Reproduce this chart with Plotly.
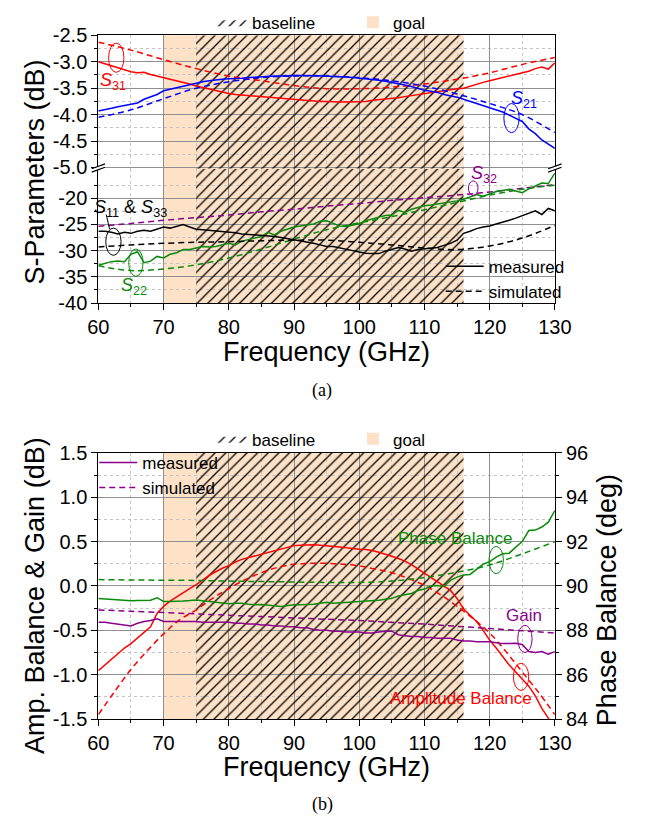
import plotly.graph_objects as go

# ---------------- data ----------------
freq = list(range(60, 131))            # measured sweep, 1 GHz step
freq5 = list(range(60, 131, 5))        # simulated points, 5 GHz step
freq25 = [60, 62.5, 65, 67.5, 70, 72.5, 75, 77.5, 80, 82.5, 85, 87.5, 90, 92.5, 95,
          97.5, 100, 102.5, 105, 107.5, 110, 112.5, 115, 117.5, 120, 122.5, 125, 127.5, 130]

goal_band = [70, 116]
baseline_band = [75, 116]

s31_meas = [-3.00, -3.04, -3.08, -3.12, -3.16, -3.19, -3.21, -3.20, -3.24, -3.27,
            -3.30, -3.32, -3.35, -3.38, -3.42, -3.46, -3.49, -3.52, -3.55, -3.58,
            -3.60, -3.62, -3.63, -3.65, -3.66, -3.67, -3.68, -3.69, -3.70, -3.71,
            -3.71, -3.72, -3.73, -3.74, -3.75, -3.75, -3.76, -3.76, -3.76, -3.76,
            -3.76, -3.75, -3.73, -3.72, -3.71, -3.70, -3.68, -3.66, -3.64, -3.63,
            -3.61, -3.58, -3.57, -3.55, -3.53, -3.51, -3.50, -3.46, -3.42, -3.39,
            -3.36, -3.33, -3.30, -3.27, -3.24, -3.21, -3.18, -3.13, -3.10, -3.14, -3.02]
s31_sim = [-2.63, -2.78, -2.96, -3.13, -3.27, -3.36, -3.45, -3.51, -3.51, -3.48,
           -3.42, -3.33, -3.21, -3.05, -2.92]

s21_meas = [-3.93, -3.91, -3.88, -3.85, -3.83, -3.80, -3.78, -3.71, -3.67, -3.62,
            -3.55, -3.52, -3.49, -3.46, -3.43, -3.41, -3.38, -3.36, -3.34, -3.33,
            -3.32, -3.32, -3.31, -3.30, -3.29, -3.28, -3.28, -3.27, -3.27, -3.26,
            -3.26, -3.26, -3.26, -3.26, -3.27, -3.27, -3.28, -3.28, -3.29, -3.30,
            -3.31, -3.32, -3.34, -3.35, -3.37, -3.39, -3.42, -3.44, -3.47, -3.51,
            -3.54, -3.56, -3.58, -3.62, -3.64, -3.67, -3.71, -3.75, -3.79, -3.83,
            -3.87, -3.91, -3.95, -4.01, -4.07, -4.13, -4.27, -4.36, -4.48, -4.56, -4.64]
s21_sim = [-4.05, -3.91, -3.70, -3.50, -3.38, -3.30, -3.27, -3.27, -3.30, -3.36,
           -3.46, -3.61, -3.79, -4.00, -4.34]

s11_meas = [-26.3, -26.3, -26.5, -26.8, -26.5, -26.7, -26.3, -26.1, -26.3, -25.9,
            -25.5, -25.7, -25.3, -25.0, -25.5, -25.9, -26.0, -26.1, -26.3, -26.4,
            -26.5, -26.6, -26.8, -26.9, -26.9, -27.0, -27.2, -27.3, -27.5, -27.7,
            -27.95, -28.2, -28.4, -28.6, -28.9, -29.2, -29.2, -29.5, -29.7, -30.0,
            -30.25, -30.5, -30.55, -30.56, -30.1, -29.8, -29.4, -29.7, -30.1, -29.8,
            -29.7, -29.6, -29.4, -29.0, -28.6, -28.0, -26.7, -26.3, -25.8, -25.5,
            -25.3, -24.9, -24.6, -24.2, -23.8, -23.3, -22.8, -22.4, -23.1, -21.95, -22.4]
s11_sim = [-29.3, -28.9, -28.6, -28.4, -28.3, -28.1, -28.0, -28.0, -28.4, -28.9,
           -29.5, -29.8, -29.1, -27.6, -25.2]

s32_sim = [-25.35, -24.8, -24.2, -23.7, -23.2, -22.6, -22.1, -21.5, -21.0, -20.4,
           -19.9, -19.4, -18.8, -18.1, -17.4]

s22_meas = [-32.8, -32.5, -32.1, -32.0, -32.1, -30.7, -30.2, -32.3, -32.0, -31.1,
            -31.4, -30.7, -30.4, -29.8, -29.8, -29.5, -29.2, -29.3, -29.2, -28.9,
            -28.6, -28.9, -28.2, -27.9, -27.6, -27.3, -26.5, -27.0, -26.3, -25.9,
            -25.5, -25.3, -25.1, -24.9, -24.4, -24.3, -24.8, -25.3, -25.4, -25.1,
            -24.85, -24.3, -23.9, -23.6, -23.3, -23.2, -22.3, -22.7, -22.1, -21.8,
            -21.45, -21.3, -21.1, -21.0, -20.8, -20.5, -20.2, -19.7, -19.3, -19.6,
            -19.2, -18.7, -18.5, -18.3, -18.6, -18.95, -18.2, -17.6, -17.1, -17.2, -15.2]
s22_sim = [-32.9, -33.8, -33.5, -32.7, -31.4, -29.7, -27.8, -26.0, -24.7, -23.5,
           -22.2, -20.8, -19.4, -18.3, -17.5]

amp_meas = [-0.955, -0.89, -0.83, -0.76, -0.70, -0.65, -0.59, -0.52, -0.46, -0.31,
            -0.23, -0.17, -0.12, -0.07, -0.03, 0.015, 0.07, 0.12, 0.16, 0.20,
            0.23, 0.27, 0.30, 0.32, 0.34, 0.355, 0.38, 0.40, 0.42, 0.44,
            0.455, 0.46, 0.465, 0.465, 0.46, 0.455, 0.45, 0.44, 0.43, 0.42,
            0.415, 0.41, 0.40, 0.38, 0.36, 0.335, 0.31, 0.28, 0.24, 0.19,
            0.14, 0.10, 0.05, 0.00, -0.05, -0.14, -0.26, -0.33, -0.40, -0.50,
            -0.61, -0.70, -0.80, -0.89, -0.97, -1.05, -1.13, -1.24, -1.38, -1.49, -1.60]
amp_sim = [-1.45, -1.19, -0.94, -0.73, -0.54, -0.38, -0.27, -0.14, -0.03, 0.07,
           0.15, 0.21, 0.245, 0.256, 0.256, 0.245, 0.227, 0.19, 0.15, 0.085,
           0.007, -0.10, -0.23, -0.37, -0.53, -0.74, -0.97, -1.20, -1.45]

phase_meas = [89.44, 89.42, 89.39, 89.35, 89.34, 89.33, 89.34, 89.34, 89.36, 89.47,
              89.30, 89.30, 89.30, 89.32, 89.34, 89.37, 89.33, 89.30, 89.25, 89.22,
              89.20, 89.22, 89.22, 89.18, 89.15, 89.16, 89.15, 89.11, 89.08, 89.12,
              89.15, 89.15, 89.16, 89.18, 89.22, 89.26, 89.22, 89.23, 89.25, 89.28,
              89.30, 89.31, 89.33, 89.36, 89.40, 89.44, 89.55, 89.60, 89.66, 89.80,
              89.86, 90.00, 90.02, 89.98, 90.25, 90.40, 90.50, 90.52, 90.75, 90.98,
              91.10, 91.30, 91.45, 91.48, 91.75, 92.00, 92.50, 92.52, 92.66, 92.88, 93.40]
phase_sim = [90.29, 90.27, 90.26, 90.25, 90.22, 90.20, 90.18, 90.16, 90.16, 90.22,
             90.38, 90.62, 90.95, 91.45, 92.00]

gain_meas = [-0.41, -0.41, -0.42, -0.43, -0.44, -0.45, -0.42, -0.40, -0.39, -0.37,
             -0.40, -0.40, -0.40, -0.40, -0.40, -0.40, -0.41, -0.41, -0.41, -0.41,
             -0.41, -0.42, -0.42, -0.43, -0.43, -0.44, -0.44, -0.45, -0.45, -0.46,
             -0.46, -0.47, -0.47, -0.49, -0.50, -0.50, -0.51, -0.51, -0.52, -0.52,
             -0.52, -0.53, -0.53, -0.52, -0.51, -0.51, -0.55, -0.56, -0.57, -0.57,
             -0.58, -0.58, -0.59, -0.59, -0.59, -0.61, -0.62, -0.62, -0.63, -0.63,
             -0.63, -0.64, -0.65, -0.65, -0.645, -0.66, -0.74, -0.75, -0.74, -0.77, -0.74]
gain_sim = [-0.27, -0.285, -0.30, -0.315, -0.33, -0.345, -0.36, -0.375, -0.39, -0.41,
            -0.43, -0.455, -0.48, -0.505, -0.53]

# axis ticks
x_ticks = [60, 70, 80, 90, 100, 110, 120, 130]
y_up_ticks = [-5.0, -4.5, -4.0, -3.5, -3.0, -2.5]
y_up_minor = [-4.75, -4.25, -3.75, -3.25, -2.75]
y_lo_ticks = [-40, -35, -30, -25, -20]
y_lo_minor = [-37.5, -32.5, -27.5, -22.5, -17.5]
y_b_ticks = [-1.5, -1.0, -0.5, 0.0, 0.5, 1.0, 1.5]
y_b_minor = [-1.25, -0.75, -0.25, 0.25, 0.75, 1.25]
y_ph_ticks = [84, 86, 88, 90, 92, 94, 96]
y_ph_minor = [85, 87, 89, 91, 93, 95]

range_up = [-5.024, -2.5]
range_lo = [-40, -14.36]
range_b = [-1.5, 1.5]
range_ph = [84, 96]

# ---------------- style / layout helpers ----------------
W, H = 651, 829
def PX(x): return x / W
def PY(y): return 1 - y / H

RED, BLUE, GREEN, PURPLE, BLACK = '#ff0000', '#0000ff', '#0a8a0a', '#8b008b', '#000000'
PEACH = '#fde2c8'
FONT = 'Liberation Sans, Arial, sans-serif'
DASH = '6px,4px'

xdom = [PX(91.3), PX(568.3)]
dom_lo = [PY(300), PY(162)]
dom_up = [PY(162), PY(25)]
dom_b = [PY(727.3), PY(454)]

fig = go.Figure()

def line(x, y, color, dash=None, xa='x', ya='y', name=None, legend=None, show=False, spline=False):
    fig.add_trace(go.Scatter(
        x=x, y=y, mode='lines', xaxis=xa, yaxis=ya, name=name,
        line=dict(color=color, width=1.5, dash=dash or 'solid', shape='spline' if spline else 'linear'),
        showlegend=show, legend=legend, hoverinfo='skip'))

def hatch(xa, ya, yr, legend=None, show=False):
    x0, x1 = baseline_band
    fig.add_trace(go.Scatter(
        x=[x0, x1, x1, x0, x0], y=[yr[0], yr[0], yr[1], yr[1], yr[0]],
        xaxis=xa, yaxis=ya, mode='lines', fill='toself', name='baseline',
        fillcolor='rgba(0,0,0,0)', line=dict(width=0, color='rgba(0,0,0,0)'),
        fillpattern=dict(shape='/', fgcolor='black', fgopacity=1, bgcolor='rgba(0,0,0,0)',
                         size=7.5, solidity=0.17),
        showlegend=show, legend=legend, legendrank=1, hoverinfo='skip'))

# hatched baseline regions
hatch('x2', 'y2', range_up, legend='legend', show=True)
hatch('x', 'y', range_lo)
hatch('x3', 'y3', range_b, legend='legend3', show=True)

# top plot, upper part
line(freq, s31_meas, RED, xa='x2', ya='y2')
line(freq5, s31_sim, RED, DASH, xa='x2', ya='y2', spline=True)
line(freq, s21_meas, BLUE, xa='x2', ya='y2')
line(freq5, s21_sim, BLUE, DASH, xa='x2', ya='y2', spline=True)

# top plot, lower part
line(freq5, s32_sim, PURPLE, DASH, spline=True)
line(freq5, s22_sim, GREEN, DASH, spline=True)
line(freq, s22_meas, GREEN)
line(freq5, s11_sim, BLACK, DASH, name='simulated', legend='legend2', show=True, spline=True)
line(freq, s11_meas, BLACK, name='measured', legend='legend2', show=True)

# bottom plot
line(freq5, phase_sim, GREEN, DASH, xa='x3', ya='y4', spline=True)
line(freq, phase_meas, GREEN, xa='x3', ya='y4')
line(freq25, amp_sim, RED, DASH, xa='x3', ya='y3', spline=True)
line(freq, amp_meas, RED, xa='x3', ya='y3')
line(freq5, gain_sim, PURPLE, DASH, xa='x3', ya='y3', name='simulated', legend='legend4', show=True, spline=True)
line(freq, gain_meas, PURPLE, xa='x3', ya='y3', name='measured', legend='legend4', show=True)

tickfont = dict(family=FONT, size=20, color='black')

def axis(**kw):
    d = dict(showline=True, linecolor='black', linewidth=1.2, ticks='outside', ticklen=6,
             tickwidth=1, tickcolor='black', showgrid=True, gridcolor='#8f8f8f', gridwidth=1,
             zeroline=False, tickfont=tickfont, fixedrange=True)
    d.update(kw)
    return d

def minor(vals=None, dtick=None, ticks='outside'):
    m = dict(ticks=ticks, ticklen=3, tickcolor='black', tickwidth=1, showgrid=True,
             gridcolor='#c4c4c4', griddash='dot', gridwidth=1)
    if vals is not None:
        m.update(tickmode='array', tickvals=vals)
    else:
        m.update(dtick=dtick)
    return m

xtxt = [str(v) for v in x_ticks]
layout_axes = dict(
    xaxis=axis(domain=xdom, anchor='y', range=[60, 130], tickmode='array', tickvals=x_ticks,
               ticktext=xtxt, minor=minor(dtick=5)),
    xaxis2=axis(domain=xdom, anchor='y2', range=[60, 130], tickmode='array', tickvals=x_ticks,
                showticklabels=False, ticks='', side='top', minor=minor(dtick=5, ticks='')),
    yaxis=axis(domain=dom_lo, anchor='x', range=range_lo, tickmode='array', tickvals=y_lo_ticks,
               ticktext=[f'{v:d}' for v in y_lo_ticks], mirror=True, minor=minor(vals=y_lo_minor)),
    yaxis2=axis(domain=dom_up, anchor='x2', range=range_up, tickmode='array', tickvals=y_up_ticks,
                ticktext=[f'{v:.1f}' for v in y_up_ticks], mirror=True, minor=minor(vals=y_up_minor)),
    xaxis3=axis(domain=xdom, anchor='y3', range=[60, 130], tickmode='array', tickvals=x_ticks,
                ticktext=xtxt, mirror=True, minor=minor(dtick=5)),
    yaxis3=axis(domain=dom_b, anchor='x3', range=range_b, tickmode='array', tickvals=y_b_ticks,
                ticktext=[f'{v:.1f}' for v in y_b_ticks], minor=minor(vals=y_b_minor)),
    yaxis4=axis(overlaying='y3', side='right', anchor='x3', range=range_ph, tickmode='array',
                tickvals=y_ph_ticks, ticktext=[str(v) for v in y_ph_ticks], showgrid=False,
                minor=dict(tickmode='array', tickvals=y_ph_minor, ticks='outside', ticklen=3,
                           tickcolor='black', showgrid=False)),
)

# ---------------- shapes ----------------
shapes = [
    dict(type='rect', xref='x', yref='paper', x0=goal_band[0], x1=goal_band[1],
         y0=PY(300), y1=PY(25), fillcolor=PEACH, line=dict(width=0), layer='below',
         showlegend=True, name='goal', legend='legend', legendrank=2),
    dict(type='rect', xref='x3', yref='paper', x0=goal_band[0], x1=goal_band[1],
         y0=PY(727.3), y1=PY(454), fillcolor=PEACH, line=dict(width=0), layer='below',
         showlegend=True, name='goal', legend='legend3', legendrank=2),
]

def ellipse(cx, cy, w, h, color):
    shapes.append(dict(type='circle', xref='paper', yref='paper',
                       x0=PX(cx - w / 2), x1=PX(cx + w / 2), y0=PY(cy + h / 2), y1=PY(cy - h / 2),
                       line=dict(color=color, width=1)))

ellipse(110, 48, 16, 30, RED)
ellipse(523, 110, 16, 30, BLUE)
ellipse(483, 182, 10, 15, PURPLE)
ellipse(107, 237, 16, 28, BLACK)
ellipse(130.5, 258.5, 15, 28, GREEN)
ellipse(507, 564, 15, 28, GREEN)
ellipse(537, 645, 15, 28, PURPLE)
ellipse(533, 684, 16, 28, RED)

# leader line from S11 label to ellipse
shapes.append(dict(type='line', xref='paper', yref='paper', x0=PX(99.5), y0=PY(209),
                   x1=PX(103), y1=PY(224), line=dict(color='black', width=1)))

# axis break marks
def brk(xc, yc):
    a, b = xc - 7, xc + 7
    path = (f'M{PX(a)},{PY(yc + 2.5)} L{PX(b)},{PY(yc - 2.5)} '
            f'L{PX(b)},{PY(yc - 6)} L{PX(a)},{PY(yc - 1)} Z')
    shapes.append(dict(type='path', xref='paper', yref='paper', path=path,
                       fillcolor='white', line=dict(width=0), layer='above'))
    for off in (2.5, -1):
        shapes.append(dict(type='line', xref='paper', yref='paper',
                           x0=PX(a), y0=PY(yc + off), x1=PX(b), y1=PY(yc + off - 5),
                           line=dict(color='black', width=1.2)))

brk(91.3, 163)
brk(568.3, 163)

# ---------------- annotations ----------------
ann = []
def text(x, y, s, color='black', size=17, angle=0, family=FONT):
    ann.append(dict(x=PX(x), y=PY(y), xref='paper', yref='paper', text=s, showarrow=False,
                    xanchor='center', yanchor='middle', textangle=angle,
                    font=dict(family=family, size=size, color=color)))

text(107, 72, '<i>S</i><sub>31</sub>', RED, 18)
text(536, 91, '<i>S</i><sub>21</sub>', BLUE, 18)
text(494, 168, '<i>S</i><sub>32</sub>', PURPLE, 18)
text(125, 203, '<i>S</i><sub>11</sub> &amp; <i>S</i><sub>33</sub>', BLACK, 18)
text(129, 283, '<i>S</i><sub>22</sub>', GREEN, 18)
text(464, 542, 'Phase Balance', GREEN, 17)
text(536, 621, 'Gain', PURPLE, 17)
text(470, 706, 'Amplitude Balance', RED, 17)

text(330, 350, 'Frequency (GHz)', size=27)
text(330, 777, 'Frequency (GHz)', size=27)
text(25, 165, 'S-Parameters (dB)', size=27, angle=-90)
text(25, 600, 'Amp. Balance &amp; Gain (dB)', size=27, angle=-90)
text(623, 605, 'Phase Balance (deg)', size=27, angle=-90)
text(325, 390, '(a)', size=18, family='Liberation Serif, Times New Roman, serif')
text(325, 815, '(b)', size=18, family='Liberation Serif, Times New Roman, serif')

legfont = dict(family=FONT, size=17, color='black')
leg_common = dict(font=legfont, bgcolor='rgba(0,0,0,0)', borderwidth=0, tracegroupgap=0)

fig.update_layout(
    width=W, height=H, margin=dict(l=0, r=0, t=0, b=0),
    paper_bgcolor='white', plot_bgcolor='white',
    shapes=shapes, annotations=ann,
    legend=dict(orientation='h', x=PX(210), y=PY(12), xanchor='left', yanchor='middle',
                entrywidth=96, entrywidthmode='pixels', **leg_common),
    legend2=dict(x=PX(449), y=PY(275.5), xanchor='left', yanchor='middle', itemwidth=38,
                 traceorder='reversed', **leg_common),
    legend3=dict(orientation='h', x=PX(210), y=PY(440), xanchor='left', yanchor='middle',
                 entrywidth=96, entrywidthmode='pixels', **leg_common),
    legend4=dict(x=PX(87), y=PY(477), xanchor='left', yanchor='middle', itemwidth=38,
                 traceorder='reversed', **leg_common),
    **layout_axes,
)

fig.write_html('out.html')
